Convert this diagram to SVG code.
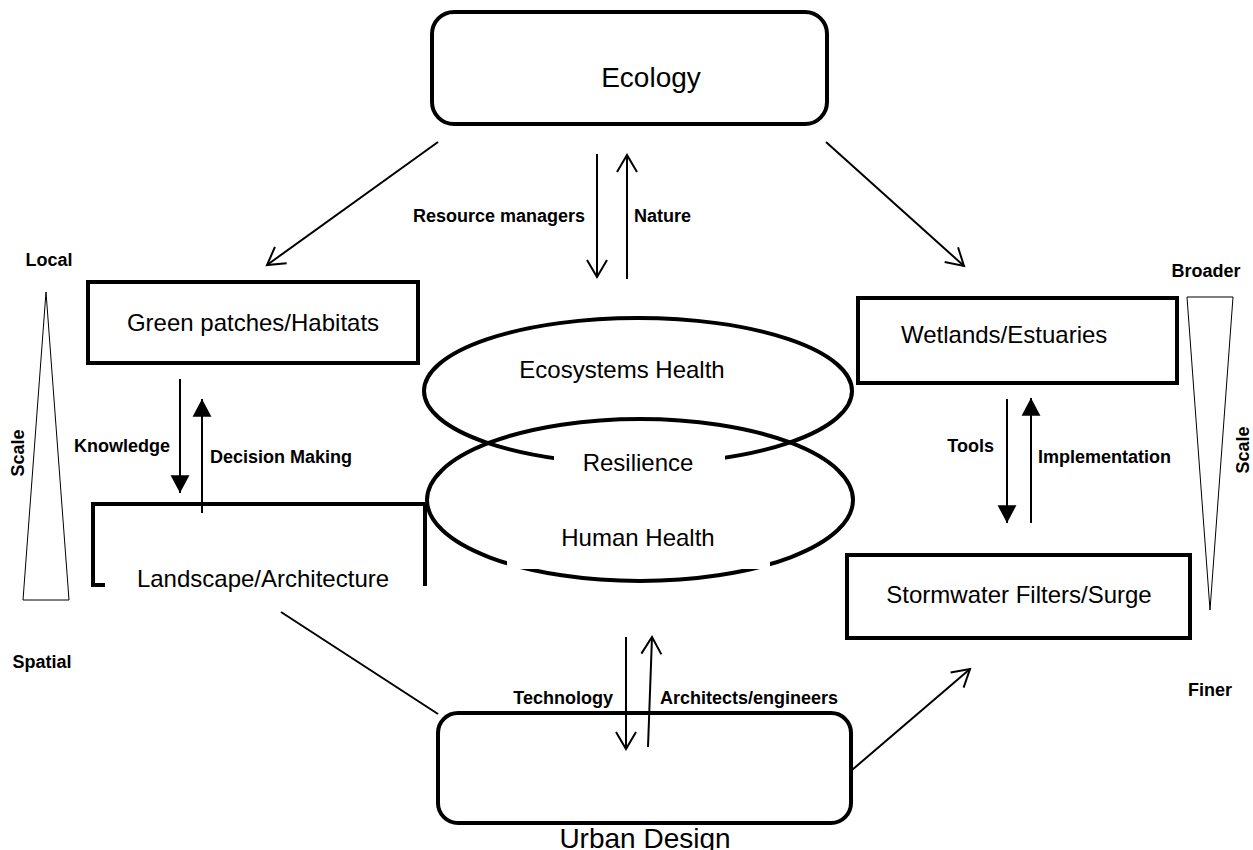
<svg xmlns="http://www.w3.org/2000/svg" width="1253" height="850" viewBox="0 0 1253 850">
<style>
.box{fill:#fff;stroke:#000;stroke-width:4}
.ell{fill:none;stroke:#000;stroke-width:4}
.t{font-family:"Liberation Sans",Arial,sans-serif;font-size:24px;fill:#000}
.b{font-family:"Liberation Sans",Arial,sans-serif;font-size:18px;font-weight:bold;fill:#000}
.tri{fill:#fff;stroke:#000;stroke-width:1}
.ln{stroke:#000;stroke-width:2;fill:none}
</style>
<defs>
<marker id="open" markerUnits="userSpaceOnUse" markerWidth="24" markerHeight="24" viewBox="-20 -12 24 24" refX="0" refY="0" orient="auto">
<path d="M-17,-10 L0,0 L-17,10" fill="none" stroke="#000" stroke-width="2"/>
</marker>
<marker id="solid" markerUnits="userSpaceOnUse" markerWidth="20" markerHeight="20" viewBox="-16 -9 18 18" refX="0" refY="0" orient="auto">
<path d="M-16,-8.5 L0,0 L-16,8.5 Z" fill="#000"/>
</marker>
</defs>
<rect width="1253" height="850" fill="#fff"/>

<g id="scale-left">
<polygon class="tri" points="46,292 23,600 69,600"/>
<text class="b" x="49" y="266" text-anchor="middle">Local</text>
<text class="b" transform="translate(24,453) rotate(-90)" text-anchor="middle">Scale</text>
<text class="b" x="42" y="668" text-anchor="middle">Spatial</text>
</g>
<g id="scale-right">
<polygon class="tri" points="1187,297 1233,297 1210,610"/>
<text class="b" x="1206" y="277" text-anchor="middle">Broader</text>
<text class="b" transform="translate(1249,450) rotate(-90)" text-anchor="middle">Scale</text>
<text class="b" x="1210" y="696" text-anchor="middle">Finer</text>
</g>

<g id="ecology">
<rect class="box" x="432" y="12" width="395" height="112" rx="22"/>
<text class="t" x="651" y="87" text-anchor="middle" style="font-size:28px">Ecology</text>
</g>

<g id="green-patches">
<rect class="box" x="88" y="282" width="330" height="81"/>
<text class="t" x="253" y="331" text-anchor="middle">Green patches/Habitats</text>
</g>

<g id="landscape">
<path class="box" style="fill:none" d="M105,585 H93 V504 H425 V586"/>
<text class="t" x="263" y="587" text-anchor="middle">Landscape/Architecture</text>
</g>

<g id="ecosystems-health">
<ellipse class="ell" cx="638" cy="391" rx="214" ry="73"/>
<rect x="554" y="440" width="171" height="32" fill="#fff"/>
<text class="t" x="622" y="378" text-anchor="middle">Ecosystems Health</text>
<text class="t" x="638" y="471" text-anchor="middle">Resilience</text>
</g>

<g id="human-health">
<ellipse class="ell" cx="640" cy="500" rx="213" ry="81"/>
<rect x="507" y="530" width="263" height="39" fill="#fff"/>
<text class="t" x="638" y="546" text-anchor="middle">Human Health</text>
</g>

<g id="wetlands">
<rect class="box" x="858" y="298" width="319" height="85"/>
<text class="t" x="901" y="343">Wetlands/Estuaries</text>
</g>

<g id="stormwater">
<rect class="box" x="847" y="555" width="343" height="83"/>
<text class="t" x="1019" y="603" text-anchor="middle">Stormwater Filters/Surge</text>
</g>

<g id="urban-design">
<rect class="box" x="438" y="713" width="413" height="110" rx="20"/>
<text class="t" x="645" y="848" text-anchor="middle" style="font-size:28px">Urban Design</text>
</g>

<g id="connectors">
<line class="ln" x1="438" y1="142" x2="267" y2="265" marker-end="url(#open)"/>
<line class="ln" x1="826" y1="142" x2="964" y2="266" marker-end="url(#open)"/>
<line class="ln" x1="597" y1="154" x2="597" y2="277" marker-end="url(#open)"/>
<line class="ln" x1="627" y1="279" x2="627" y2="155" marker-end="url(#open)"/>
<text class="b" x="585" y="222" text-anchor="end">Resource managers</text>
<text class="b" x="634" y="222">Nature</text>

<line class="ln" x1="180" y1="379" x2="180" y2="493" marker-end="url(#solid)"/>
<line class="ln" x1="202" y1="513" x2="202" y2="399" marker-end="url(#solid)"/>
<text class="b" x="170" y="452" text-anchor="end">Knowledge</text>
<text class="b" x="210" y="463">Decision Making</text>

<line class="ln" x1="1007" y1="399" x2="1007" y2="523" marker-end="url(#solid)"/>
<line class="ln" x1="1031" y1="523" x2="1031" y2="398" marker-end="url(#solid)"/>
<text class="b" x="994" y="452" text-anchor="end">Tools</text>
<text class="b" x="1038" y="463">Implementation</text>

<line class="ln" x1="626" y1="637" x2="626" y2="749" marker-end="url(#open)"/>
<line class="ln" x1="648" y1="747" x2="652" y2="637" marker-end="url(#open)"/>
<text class="b" x="613" y="704" text-anchor="end">Technology</text>
<text class="b" x="660" y="704">Architects/engineers</text>

<line class="ln" x1="281" y1="612" x2="438" y2="714"/>
<line class="ln" x1="852" y1="770" x2="970" y2="669" marker-end="url(#open)"/>
</g>
</svg>
